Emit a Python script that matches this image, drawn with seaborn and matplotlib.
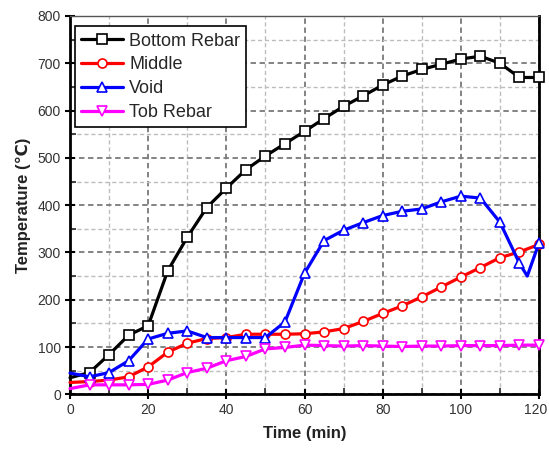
import matplotlib
matplotlib.use("Agg")
import matplotlib.pyplot as plt
import matplotlib.transforms as mtransforms
import seaborn as sns
import numpy as np
from matplotlib.ticker import MultipleLocator

# ---- data ----
time = [0, 5, 10, 15, 20, 25, 30, 35, 40, 45, 50, 55, 60,
        65, 70, 75, 80, 85, 90, 95, 100, 105, 110, 115, 120]
bottom_rebar = [35, 46, 84, 125, 145, 261, 332, 395, 436, 475, 504, 530, 556,
                583, 609, 631, 654, 673, 687, 698, 709, 715, 700, 670, 670]
middle = [25, 27, 30, 37, 58, 89, 108, 118, 120, 127, 127, 127, 128,
          132, 139, 154, 171, 187, 206, 227, 248, 268, 289, 301, 317]
time_void = [0, 5, 10, 15, 20, 25, 30, 35, 40, 45, 50, 55, 60,
             65, 70, 75, 80, 85, 90, 95, 100, 105, 110, 115, 117, 120]
void = [45, 37, 46, 71, 117, 129, 134, 120, 120, 120, 120, 153, 256,
        325, 347, 363, 378, 387, 392, 407, 419, 415, 364, 277, 250, 320]
tob_rebar = [12, 20, 20, 20, 21, 30, 46, 55, 71, 80, 96, 99, 104,
             103, 102, 103, 102, 101, 102, 102, 103, 103, 103, 104, 104]

labels = ["Bottom Rebar", "Middle", "Void", "Tob Rebar"]
x_ticks = [0, 20, 40, 60, 80, 100, 120]
y_ticks = [0, 100, 200, 300, 400, 500, 600, 700, 800]

sns.set_style("white")
plt.rcParams['font.family'] = ['Liberation Sans', 'DejaVu Sans']

fig = plt.figure(figsize=(5.49, 4.59), dpi=100)
ax = fig.add_axes([70/549, 1-394.3/459, (539-70)/549, (394.3-16)/459])

series = [
    (time, bottom_rebar, "black", "s", labels[0]),
    (time, middle, "red", "o", labels[1]),
    (time_void, void, "blue", "^", labels[2]),
    (time, tob_rebar, "magenta", "v", labels[3]),
]
for xs, ys, col, mk, lab in series:
    idx = [i for i, t in enumerate(xs) if t % 5 == 0 and t > 0]
    sns.lineplot(x=xs, y=ys, ax=ax, color=col, linewidth=2.3, marker=mk,
                 markevery=idx, markersize=6.5, markerfacecolor="white",
                 markeredgecolor=col, markeredgewidth=1.2, label=lab,
                 clip_on=False, zorder=3)

ax.set_xlim(0, 120)
ax.set_ylim(0, 800)
ax.xaxis.set_major_locator(MultipleLocator(20))
ax.xaxis.set_minor_locator(MultipleLocator(10))
ax.yaxis.set_major_locator(MultipleLocator(100))
ax.yaxis.set_minor_locator(MultipleLocator(50))
ax.set_xticks(x_ticks)
ax.set_yticks(y_ticks)

ax.grid(which="major", color="#7a7a7a", linestyle=(0, (3, 2)), linewidth=1.3)
ax.grid(which="minor", color="#bdbdbd", linestyle=(0, (3, 2)), linewidth=1.0)
ax.set_axisbelow(True)

ax.tick_params(which="major", direction="inout", length=7, width=1.5,
               labelsize=10, colors="black", labelcolor="#333333", pad=3,
               left=True, bottom=True)
ax.tick_params(which="minor", direction="in", length=4, width=1.2,
               left=True, bottom=True)

# nudge the last x tick label slightly inward so it is not clipped
last = ax.get_xticklabels()[-1]
last.set_transform(last.get_transform() +
                   mtransforms.ScaledTranslation(-3/100, 0, fig.dpi_scale_trans))

for side, sp in ax.spines.items():
    sp.set_color("black")
    sp.set_linewidth(2.0)
ax.spines["top"].set_linewidth(1.0)
ax.spines["top"].set_color("#555555")

ax.set_xlabel("Time (min)", fontsize=12, fontweight="bold", color="#222222", labelpad=6)
ax.set_ylabel("Temperature (℃)", fontsize=12, fontweight="bold", color="#222222", labelpad=5,
              family=['Liberation Sans', 'DejaVu Sans'])

leg = ax.legend(loc="upper left", bbox_to_anchor=(0.0105, 0.973), fontsize=13,
                frameon=True, fancybox=False, edgecolor="black", framealpha=1,
                handlelength=2.3, handletextpad=0.35, labelspacing=0.38,
                borderpad=0.35, borderaxespad=0)
leg.get_frame().set_linewidth(1.2)
leg.set_zorder(5)

fig.savefig("out.png", dpi=100)
